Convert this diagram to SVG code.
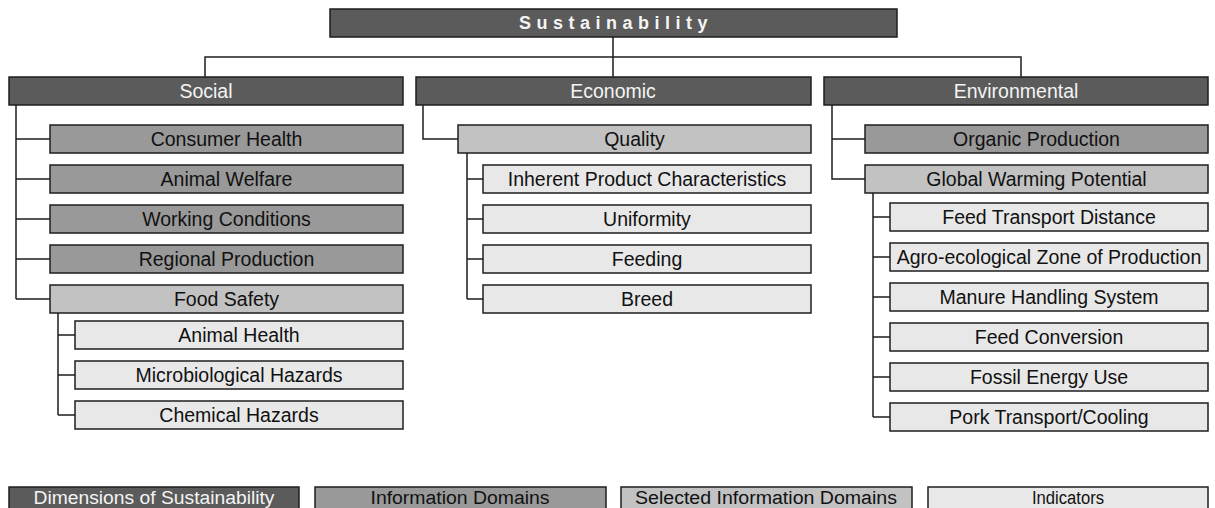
<svg xmlns="http://www.w3.org/2000/svg" width="1215" height="508" viewBox="0 0 1215 508">
<style>
rect{stroke:#1e1e1e;stroke-width:1.5}
.d{fill:#5b5b5b}
.m{fill:#999999}
.s{fill:#c2c2c2}
.i{fill:#e8e8e8}
text{font-family:"Liberation Sans",Arial,sans-serif;font-size:19.5px;text-anchor:middle;fill:#111}
.w{fill:#f4f4f4}
.t{font-weight:bold;font-size:18px;letter-spacing:5.5px}
.lg{font-size:18px}
#connectors path{fill:none;stroke:#1e1e1e;stroke-width:1.5}
</style>
<rect x="0" y="0" width="1215" height="508" fill="#ffffff" style="stroke:none"/>
<g id="connectors">
<path d="M613 37V77M205 77V57H1021V77"/>
<path d="M16 105V299M16 139H50M16 179H50M16 219H50M16 259H50M16 299H50"/>
<path d="M58 313V415M58 335H75M58 375H75M58 415H75"/>
<path d="M423 105V139H458"/>
<path d="M467 153V299M467 179H483M467 219H483M467 259H483M467 299H483"/>
<path d="M832 105V179H865M832 139H865"/>
<path d="M873 193V417M873 217H890M873 257H890M873 297H890M873 337H890M873 377H890M873 417H890"/>
</g>
<g id="sustainability"><rect class="d" x="330" y="9" width="567" height="28"/><text class="w t" x="616" y="29">Sustainability</text></g>
<g id="social"><rect class="d" x="9" y="77" width="394" height="28"/><text class="w" x="206" y="97.5">Social</text></g>
<g id="economic"><rect class="d" x="416" y="77" width="395" height="28"/><text class="w" x="613" y="97.5">Economic</text></g>
<g id="environmental"><rect class="d" x="824" y="77" width="384" height="28"/><text class="w" x="1016" y="97.5">Environmental</text></g>

<g id="consumer-health"><rect class="m" x="50" y="125" width="353" height="28"/><text x="226.5" y="145.5">Consumer Health</text></g>
<g id="animal-welfare"><rect class="m" x="50" y="165" width="353" height="28"/><text x="226.5" y="185.5">Animal Welfare</text></g>
<g id="working-conditions"><rect class="m" x="50" y="205" width="353" height="28"/><text x="226.5" y="225.5">Working Conditions</text></g>
<g id="regional-production"><rect class="m" x="50" y="245" width="353" height="28"/><text x="226.5" y="265.5">Regional Production</text></g>
<g id="food-safety"><rect class="s" x="50" y="285" width="353" height="28"/><text x="226.5" y="305.5">Food Safety</text></g>
<g id="animal-health"><rect class="i" x="75" y="321" width="328" height="28"/><text x="239" y="341.5">Animal Health</text></g>
<g id="micro-hazards"><rect class="i" x="75" y="361" width="328" height="28"/><text x="239" y="381.5">Microbiological Hazards</text></g>
<g id="chemical-hazards"><rect class="i" x="75" y="401" width="328" height="28"/><text x="239" y="421.5">Chemical Hazards</text></g>

<g id="quality"><rect class="s" x="458" y="125" width="353" height="28"/><text x="634.5" y="145.5">Quality</text></g>
<g id="inherent"><rect class="i" x="483" y="165" width="328" height="28"/><text x="647" y="185.5">Inherent Product Characteristics</text></g>
<g id="uniformity"><rect class="i" x="483" y="205" width="328" height="28"/><text x="647" y="225.5">Uniformity</text></g>
<g id="feeding"><rect class="i" x="483" y="245" width="328" height="28"/><text x="647" y="265.5">Feeding</text></g>
<g id="breed"><rect class="i" x="483" y="285" width="328" height="28"/><text x="647" y="305.5">Breed</text></g>

<g id="organic-production"><rect class="m" x="865" y="125" width="343" height="28"/><text x="1036.5" y="145.5">Organic Production</text></g>
<g id="gwp"><rect class="s" x="865" y="165" width="343" height="28"/><text x="1036.5" y="185.5">Global Warming Potential</text></g>
<g id="feed-transport"><rect class="i" x="890" y="203" width="318" height="28"/><text x="1049" y="223.5">Feed Transport Distance</text></g>
<g id="agro-zone"><rect class="i" x="890" y="243" width="318" height="28"/><text x="1049" y="263.5">Agro-ecological Zone of Production</text></g>
<g id="manure"><rect class="i" x="890" y="283" width="318" height="28"/><text x="1049" y="303.5">Manure Handling System</text></g>
<g id="feed-conversion"><rect class="i" x="890" y="323" width="318" height="28"/><text x="1049" y="343.5">Feed Conversion</text></g>
<g id="fossil-energy"><rect class="i" x="890" y="363" width="318" height="28"/><text x="1049" y="383.5">Fossil Energy Use</text></g>
<g id="pork-transport"><rect class="i" x="890" y="403" width="318" height="28"/><text x="1049" y="423.5">Pork Transport/Cooling</text></g>

<g id="legend">
<g id="legend-dimensions"><rect class="d" x="9" y="487" width="290" height="30"/><text class="w lg" x="154" y="503.5" textLength="241" lengthAdjust="spacingAndGlyphs">Dimensions of Sustainability</text></g>
<g id="legend-domains"><rect class="m" x="315" y="487" width="291" height="30"/><text class="lg" x="460" y="503.5" textLength="179" lengthAdjust="spacingAndGlyphs">Information Domains</text></g>
<g id="legend-selected"><rect class="s" x="621" y="487" width="291" height="30"/><text class="lg" x="766" y="503.5" textLength="262" lengthAdjust="spacingAndGlyphs">Selected Information Domains</text></g>
<g id="legend-indicators"><rect class="i" x="928" y="487" width="280" height="30"/><text class="lg" x="1068" y="503.5" textLength="72" lengthAdjust="spacingAndGlyphs">Indicators</text></g>
</g>
</svg>
